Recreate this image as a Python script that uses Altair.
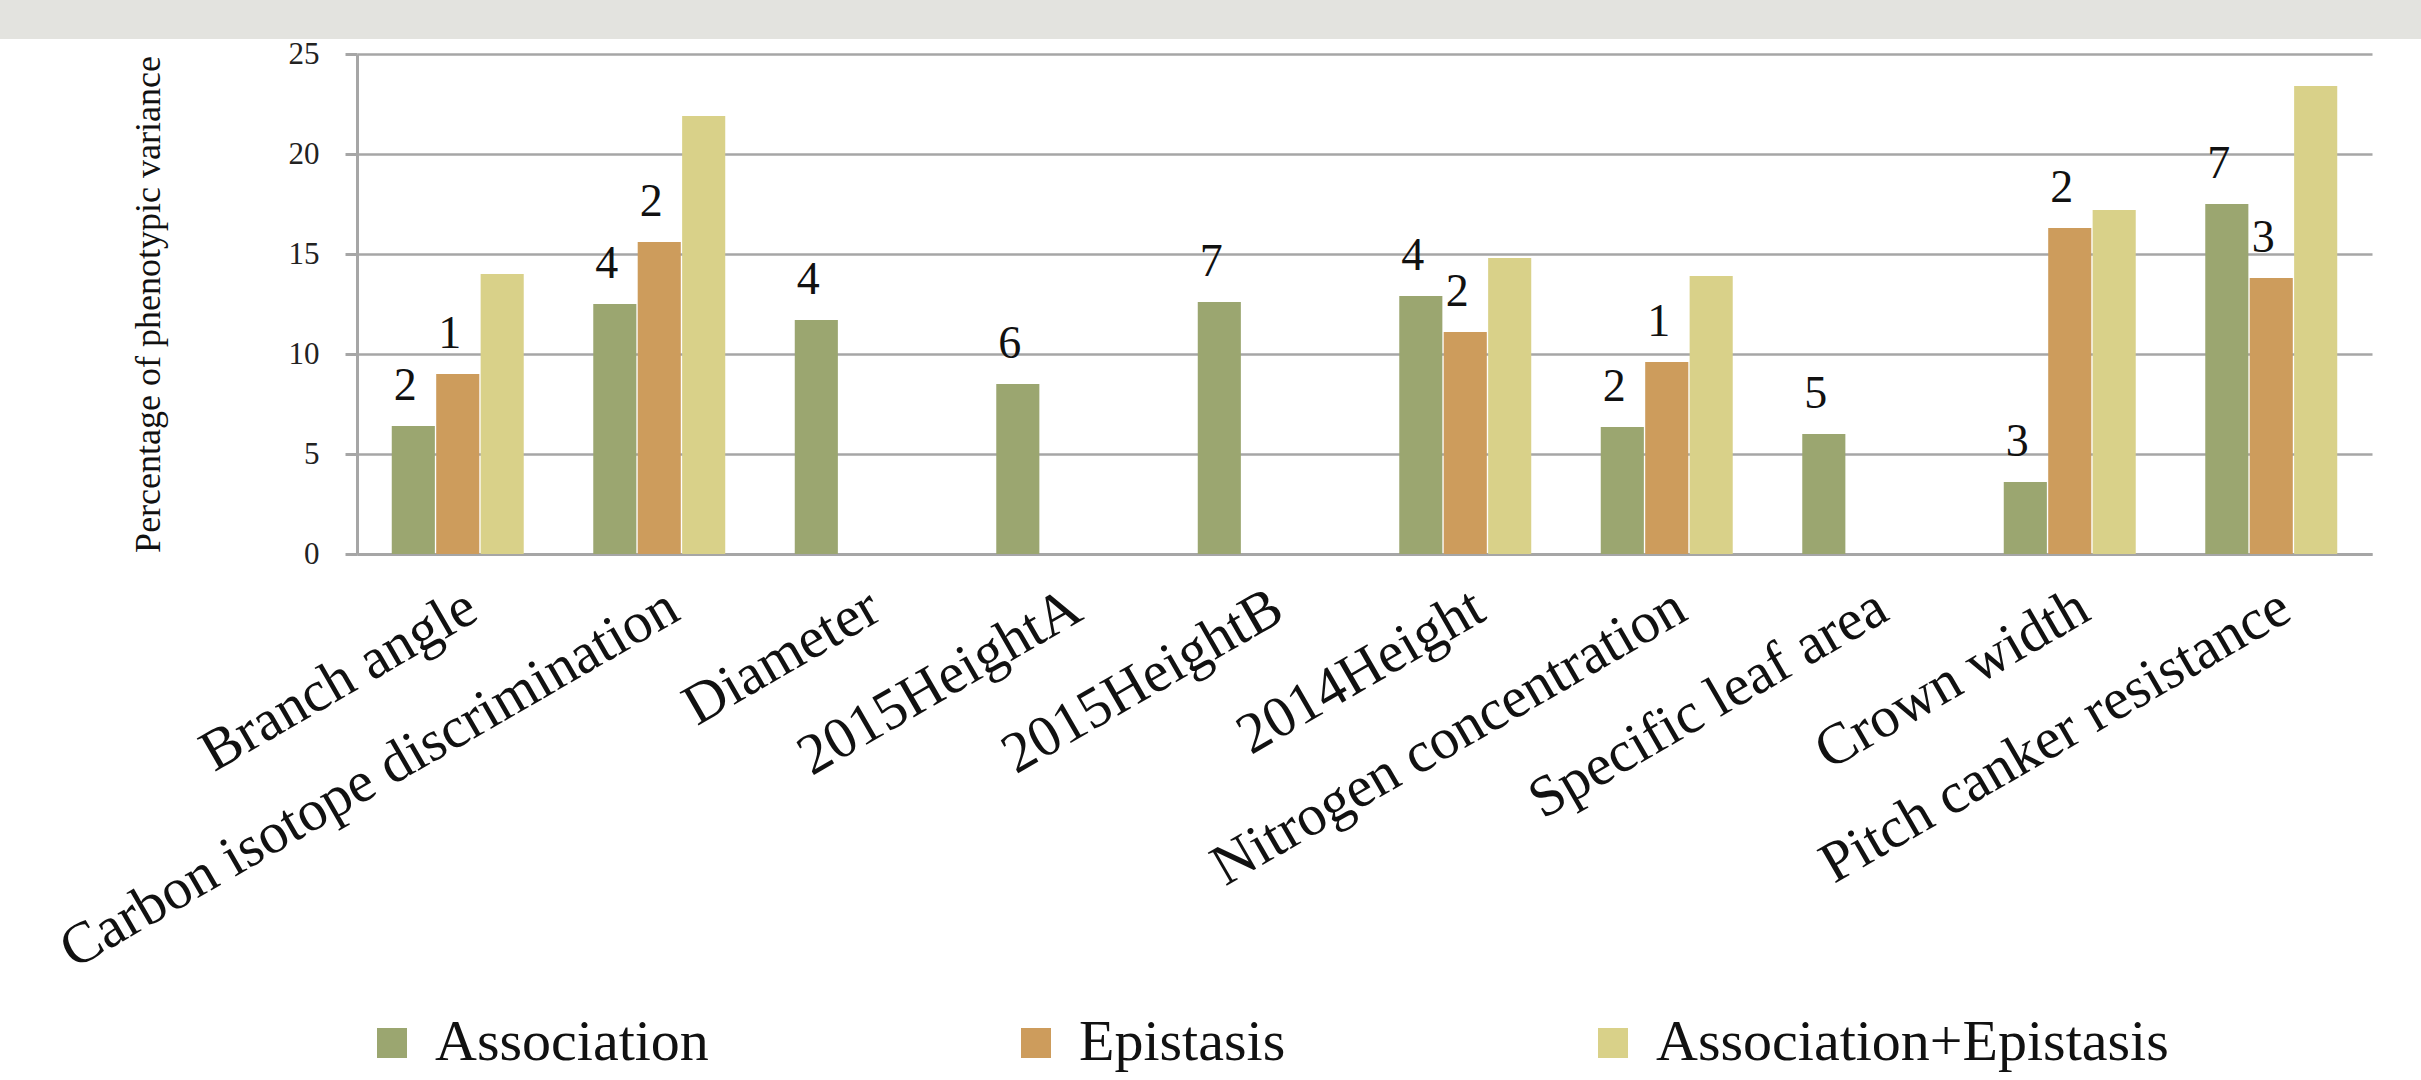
import altair as alt
import pandas as pd

categories = [
    "Branch angle", "Carbon isotope discrimination", "Diameter", "2015HeightA",
    "2015HeightB", "2014Height", "Nitrogen concentration", "Specific leaf area",
    "Crown width", "Pitch canker resistance",
]
series_names = ["Association", "Epistasis", "Association+Epistasis"]
association = [6.4, 12.5, 11.7, 8.5, 12.6, 12.9, 6.35, 6.0, 3.6, 17.5]
epistasis = [9.0, 15.6, None, None, None, 11.1, 9.6, None, 16.3, 13.8]
assoc_epistasis = [14.0, 21.9, None, None, None, 14.8, 13.9, None, 17.2, 23.4]
association_counts = [2, 4, 4, 6, 7, 4, 2, 5, 3, 7]
epistasis_counts = [1, 2, None, None, None, 2, 1, None, 2, 3]
y_ticks = [0, 5, 10, 15, 20, 25]
colors = ["#9ba670", "#cd9c5c", "#d9d189"]

rows = []
for i, c in enumerate(categories):
    for s, vals, cnts in [
        (series_names[0], association, association_counts),
        (series_names[1], epistasis, epistasis_counts),
        (series_names[2], assoc_epistasis, [None] * len(categories)),
    ]:
        if vals[i] is not None:
            rows.append({
                "trait": c, "series": s, "value": vals[i],
                "count": "" if cnts[i] is None else str(cnts[i]),
            })
df = pd.DataFrame(rows)

GRID = "#a6a6a6"

x_enc = alt.X(
    "trait:N", sort=categories, title=None,
    scale=alt.Scale(paddingInner=0.345, paddingOuter=0.1725),
    axis=alt.Axis(
        labelAngle=-30, labelAlign="right", labelBaseline="top",
        labelFont="Liberation Serif", labelFontSize=58, labelColor="#111",
        labelPadding=24, labelLimit=2000, labelOverlap=False,
        ticks=False, domainColor=GRID, domainWidth=3,
    ),
)
xoff_enc = alt.XOffset("series:N", sort=series_names,
                       scale=alt.Scale(domain=series_names, paddingInner=0.03))
y_enc = alt.Y(
    "value:Q", title="Percentage of phenotypic variance",
    scale=alt.Scale(domain=[0, 25], nice=False),
    axis=alt.Axis(
        values=y_ticks, grid=True, gridColor=GRID, gridWidth=2.5,
        domainColor=GRID, domainWidth=3, tickColor=GRID, tickWidth=3, tickSize=12,
        labelFont="Liberation Serif", labelFontSize=31, labelColor="#222",
        labelPadding=26,
        titleFont="Liberation Serif", titleFontSize=36, titleFontWeight="normal",
        titleColor="#111", titleAngle=-90, titleX=-209, titleY=250,
        titleAlign="center", titleBaseline="middle",
    ),
)

band = alt.Chart(pd.DataFrame({"k": [0]})).mark_rect(color="#e3e3df").encode(
    x=alt.value(-357), x2=alt.value(2064), y=alt.value(-54), y2=alt.value(-15)
)

bars = alt.Chart(df).mark_bar().encode(
    x=x_enc, xOffset=xoff_enc, y=y_enc,
    color=alt.Color(
        "series:N", sort=series_names,
        scale=alt.Scale(domain=series_names, range=colors),
        legend=alt.Legend(
            title=None, orient="none", legendX=6, legendY=960,
            direction="horizontal", symbolType="square", symbolSize=900,
            symbolStrokeWidth=0, labelFont="Liberation Serif", labelFontSize=58,
            labelColor="#111", columnPadding=298, labelOffset=14, labelLimit=2000,
        ),
    ),
)

labels = alt.Chart(df).transform_filter(alt.datum["count"] != "").mark_text(
    font="Liberation Serif", fontSize=46, dy=-40, dx=-8, baseline="middle",
    color="#111",
).encode(x=x_enc, xOffset=xoff_enc, y=y_enc, text="count:N")

chart = alt.layer(band, bars, labels).properties(
    width=2015, height=500,
    autosize=alt.AutoSizeParams(type="none"),
    padding={"left": 357, "top": 54, "right": 49, "bottom": 526},
    background="white",
).configure_view(stroke=None)

chart.save("out.html", embed_options={"renderer": "svg", "actions": False})
